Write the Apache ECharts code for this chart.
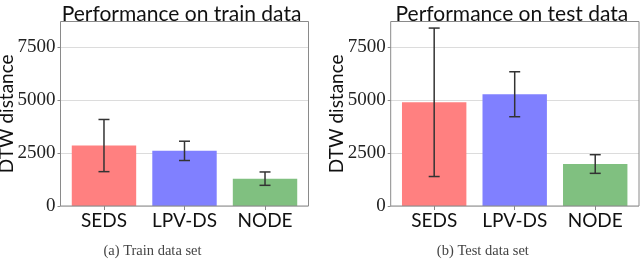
<!DOCTYPE html>
<html><head><meta charset="utf-8">
<script src="https://cdn.jsdelivr.net/npm/echarts@6/dist/echarts.min.js"></script>
<style>html,body{margin:0;padding:0;background:#fff}#c{width:640px;height:272px}</style>
</head><body><div id="c"></div>
<script>
const categories = ['SEDS', 'LPV-DS', 'NODE'];
const trainMean = [2850, 2600, 1290];
const trainErr = [1230, 455, 315];
const testMean = [4890, 5270, 1980];
const testErr = [3500, 1060, 440];
const yTicks = [0, 2500, 5000, 7500];
const titles = ['Performance on train data', 'Performance on test data'];
const captions = ['(a) Train data set', '(b) Test data set'];
const yName = 'DTW distance';

const colors = ['#ff8080', '#8080ff', '#80c080'];
const YMAX = 8700;
const SERIF = "'Liberation Serif', 'DejaVu Serif', serif";
const SANS = "Lato, 'Noto Sans', sans-serif";
const chart = echarts.init(document.getElementById('c'), null, {renderer: 'canvas'});

const frames = [{left: 60.5, width: 248}, {left: 390.7, width: 248.3}];
const gTop = 21.5, gHeight = 184.5;
const unit = 248 / 3.08;

const grids = [], xAxes = [], yAxes = [], series = [], titleArr = [];
frames.forEach((f, k) => {
  const means = k === 0 ? trainMean : testMean;
  const errs = k === 0 ? trainErr : testErr;
  grids.push({left: f.left, top: gTop, width: f.width, height: gHeight, show: true,
    containLabel: false, outerBoundsMode: 'none',
    borderColor: '#8a8a8a', borderWidth: 1, backgroundColor: 'transparent', z: 3});
  grids.push({left: f.left + 0.04 * unit, top: gTop, width: 3 * unit, height: gHeight,
    containLabel: false, outerBoundsMode: 'none'});
  xAxes.push({gridIndex: 2 * k, type: 'value', min: 0, max: 1, show: false});
  xAxes.push({gridIndex: 2 * k + 1, type: 'category', data: categories,
    axisLine: {show: false},
    axisTick: {show: true, alignWithLabel: true, interval: 0, length: 4, lineStyle: {color: '#888'}},
    axisLabel: {interval: 0, margin: 5, fontFamily: SANS, fontSize: 19, color: '#111'}});
  yAxes.push({gridIndex: 2 * k, type: 'value', min: 0, max: YMAX, interval: 2500,
    name: yName, nameLocation: 'middle', nameGap: 44, nameRotate: 90, nameMoveOverlap: false,
    nameTextStyle: {fontFamily: SANS, fontSize: 19, color: '#111'},
    axisLine: {show: false},
    axisTick: {show: true, length: 3, lineStyle: {color: '#888'}},
    splitLine: {show: true, lineStyle: {color: '#dcdcdc', width: 1}},
    axisLabel: {margin: 5, fontFamily: SERIF, fontSize: 19, color: '#222',
      showMaxLabel: false,
      formatter: v => yTicks.includes(v) ? String(v) : ''}});
  yAxes.push({gridIndex: 2 * k + 1, type: 'value', min: 0, max: YMAX, show: false});
  series.push({type: 'bar', xAxisIndex: 2 * k + 1, yAxisIndex: 2 * k + 1,
    barWidth: 0.8 * unit,
    data: means.map((v, i) => ({value: v, itemStyle: {color: colors[i]}}))});
  series.push({type: 'custom', xAxisIndex: 2 * k + 1, yAxisIndex: 2 * k + 1, z: 10,
    data: means.map((v, i) => [i, v, errs[i]]),
    renderItem: (params, api) => {
      const x = api.value(0), m = api.value(1), e = api.value(2);
      const p1 = api.coord([x, m + e]), p2 = api.coord([x, m - e]);
      const cw = 5.5;
      const st = {stroke: '#333', lineWidth: 1.5};
      return {type: 'group', children: [
        {type: 'line', shape: {x1: p1[0], y1: p1[1], x2: p2[0], y2: p2[1]}, style: st},
        {type: 'line', shape: {x1: p1[0] - cw, y1: p1[1], x2: p1[0] + cw, y2: p1[1]}, style: st},
        {type: 'line', shape: {x1: p2[0] - cw, y1: p2[1], x2: p2[0] + cw, y2: p2[1]}, style: st}
      ]};
    }});
  titleArr.push({text: titles[k], left: f.left + f.width / 2 - 8, top: -1, textAlign: 'center',
    textStyle: {fontFamily: SANS, fontSize: 21, fontWeight: 'normal', color: '#111'}});
  titleArr.push({text: captions[k], left: f.left + f.width / 2 - 37, top: 239, textAlign: 'center',
    textStyle: {fontFamily: SERIF, fontSize: 14.5, fontWeight: 'normal', color: '#444'}});
});

chart.setOption({animation: false, title: titleArr, grid: grids, xAxis: xAxes, yAxis: yAxes, series: series});
</script></body></html>
